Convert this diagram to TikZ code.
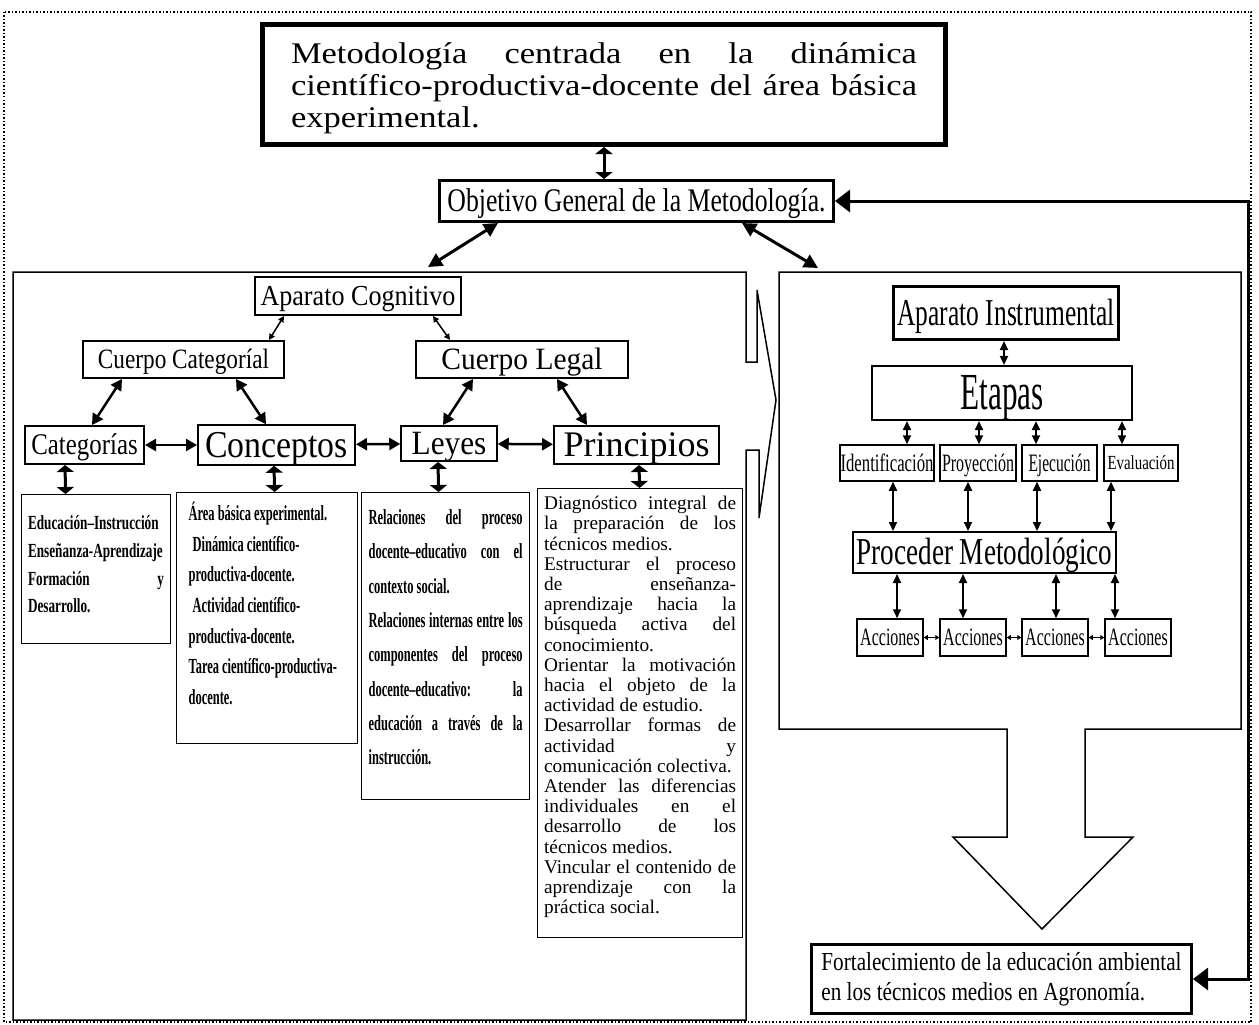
\documentclass[tikz,border=0pt]{standalone}
\usepackage{fontspec}
\usepackage{graphicx}
\setmainfont{Liberation Serif}
\newfontfamily\widefont[FakeStretch=1.15]{Liberation Serif}
\newfontfamily\condfont[FakeStretch=0.66]{Liberation Serif}
\newfontfamily\tightfont[FakeStretch=0.58]{Liberation Serif}
\newfontfamily\fortfont[FakeStretch=0.815]{Liberation Serif}
\usetikzlibrary{arrows.meta}
\tolerance=9999 \hbadness=10000 \hyphenpenalty=10000 \exhyphenpenalty=10000
\newcommand{\narrowtext}[2]{\scalebox{#1}[1]{#2}}
\newcommand{\firstgap}[1]{\rule{0pt}{#1}}

\tikzset{
	box/.style={draw, rectangle, inner sep=0pt, line width=1.5pt},
	lbl/.style={box, font=\fontsize{#1}{#1}\selectfont, text height={0.84*#1pt}, text depth={0.2*#1pt}},
	arrbig/.style={{Triangle[length=14pt,width=14pt]}-{Triangle[length=14pt,width=14pt]}, line width=3pt},
	arrthick/.style={{Triangle[length=11pt,width=12pt]}-{Triangle[length=11pt,width=12pt]}, line width=2.5pt},
	arrupdown/.style={{Triangle[length=7pt,width=17pt]}-{Triangle[length=7pt,width=17pt]}, line width=3pt},
	arrthin/.style={{Triangle[length=6pt,width=6pt]}-{Triangle[length=6pt,width=6pt]}, line width=1.5pt},
	arrmed/.style={{Triangle[length=9pt,width=8pt]}-{Triangle[length=9pt,width=8pt]}, line width=2pt},
	arrsmall/.style={{Triangle[length=4pt,width=5pt]}-{Triangle[length=4pt,width=5pt]}, line width=1.5pt},
	arrfb/.style={{Triangle[length=15pt,width=22pt]}-{Triangle[length=15pt,width=22pt]}, line width=3pt}
}

\begin{document}
\begin{tikzpicture}[x=1pt, y=-1pt]
	\useasboundingbox (0,0) rectangle (1259,1025);
	
	% outer frame and the two panels
	\draw[line width=1.5pt, dash pattern=on 1.5pt off 2pt] (4,12) rectangle (1251,1022);
	\draw[line width=1.5pt] (13,272) -- (746,272) -- (746,362) -- (757,362) -- (757,290) -- (776,400) -- (759,518) -- (759,450) -- (746,450) -- (746,1020) -- (13,1020) -- cycle;
	\draw[line width=1.5pt] (779,272) -- (1241,272) -- (1241,729) -- (1085,729) -- (1085,837) -- (1133,837) -- (1042,929) -- (953,837) -- (1007,837) -- (1007,729) -- (779,729) -- cycle;
	\coordinate (cogin) at (428,267);
	\coordinate (insin) at (818,268);
	\coordinate (fbx) at (1248,600);
	
	\node[box, line width=5pt, minimum width=683pt, minimum height=120pt] (metodo) at (604,84.5) {\parbox[c][120pt][t]{626pt}{\widefont\fontsize{30}{32.5}\selectfont\firstgap{38.5pt}Metodología centrada en la dinámica\linebreak científico-productiva-docente del área básica\linebreak experimental.}};
	\node[lbl=33, line width=3pt, minimum width=394pt, minimum height=41pt] (objetivo) at (636.5,201) {\narrowtext{0.78}{Objetivo General de la Metodología.}};
	
	% aparato cognitivo
	\node[lbl=29, line width=2pt, minimum width=206pt, minimum height=38pt] (apcog) at (358,296) {\narrowtext{0.9}{Aparato Cognitivo}};
	\node[lbl=28, line width=2pt, minimum width=201pt, minimum height=37pt] (cuecat) at (183.5,359.5) {\narrowtext{0.83}{Cuerpo Categoríal}};
	\node[lbl=31, line width=2pt, minimum width=212pt, minimum height=37pt] (cueleg) at (522,359.5) {\narrowtext{0.95}{Cuerpo Legal}};
	\node[lbl=30, line width=2pt, minimum width=119pt, minimum height=38pt] (categ) at (84.5,445) {\narrowtext{0.83}{Categorías}};
	\node[lbl=38, line width=2pt, minimum width=157pt, minimum height=38pt] (concep) at (276.5,445) {\narrowtext{0.89}{Conceptos}};
	\node[lbl=34, line width=1.5pt, minimum width=96pt, minimum height=35pt] (leyes) at (449,443.5) {\narrowtext{0.92}{Leyes}};
	\node[lbl=36, line width=2pt, minimum width=165pt, minimum height=38pt] (princ) at (636.5,445) {\narrowtext{1}{Principios}};
	
	\node[box, line width=1.2pt, minimum width=149pt, minimum height=149pt, anchor=north west, font=\condfont\bfseries\fontsize{20}{27.7}\selectfont] (tcateg) at (21,494) {\parbox[c][149pt][t]{136pt}{\firstgap{35pt}Educación–Instrucción\linebreak Enseñanza-Aprendizaje\linebreak Formación y\linebreak Desarrollo.}};
	\node[box, line width=1.2pt, minimum width=181pt, minimum height=251pt, anchor=north west, font=\tightfont\bfseries\fontsize{21.5}{30.6}\selectfont] (tconcep) at (176,492) {\parbox[c][251pt][t]{157pt}{\raggedright\firstgap{28pt}Área básica experimental.\\\hspace*{4pt}Dinámica científico-\\productiva-docente.\\\hspace*{4pt}Actividad científico-\\productiva-docente.\\Tarea científico-productiva-\\docente.}};
	\node[box, line width=1.2pt, minimum width=168pt, minimum height=307pt, anchor=north west, font=\tightfont\bfseries\fontsize{21.5}{34.3}\selectfont] (tleyes) at (361,492) {\parbox[c][307pt][t]{154pt}{\firstgap{32pt}Relaciones del proceso\linebreak docente–educativo con el\linebreak contexto social.\par Relaciones internas entre los\linebreak componentes del proceso\linebreak docente–educativo: la\linebreak educación a través de la\linebreak instrucción.}};
	\node[box, line width=1.2pt, minimum width=205pt, minimum height=449pt, anchor=north west, font=\fontsize{19.3}{20.2}\selectfont] (tprinc) at (537,488) {\parbox[c][449pt][t]{192pt}{\firstgap{21pt}Diagnóstico integral de\linebreak la preparación de los\linebreak técnicos medios.\par Estructurar el proceso\linebreak de enseñanza-\linebreak aprendizaje hacia la\linebreak búsqueda activa del\linebreak conocimiento.\par Orientar la motivación\linebreak hacia el objeto de la\linebreak actividad de estudio.\par Desarrollar formas de\linebreak actividad y\linebreak comunicación colectiva.\par Atender las diferencias\linebreak individuales en el\linebreak desarrollo de los\linebreak técnicos medios.\par Vincular el contenido de\linebreak aprendizaje con la\linebreak práctica social.}};
	
	% aparato instrumental
	\node[lbl=38, line width=3pt, minimum width=225pt, minimum height=53pt] (apins) at (1006,313) {\narrowtext{0.67}{Aparato Instrumental}};
	\node[lbl=52, line width=2pt, minimum width=260pt, minimum height=48pt] (etapas) at (1002,393) {\narrowtext{0.6}{Etapas}};
	\node[lbl=25, minimum width=94pt, minimum height=36pt] (ident) at (887,463) {\narrowtext{0.67}{Identificación}};
	\node[lbl=25, minimum width=76pt, minimum height=36pt] (proyec) at (978,463) {\narrowtext{0.64}{Proyección}};
	\node[lbl=25, minimum width=75pt, minimum height=36pt] (ejec) at (1059.5,463) {\narrowtext{0.62}{Ejecución}};
	\node[lbl=20, minimum width=74pt, minimum height=36pt] (evalua) at (1141,463) {\narrowtext{0.745}{Evaluación}};
	\node[lbl=38, line width=2pt, minimum width=263pt, minimum height=41pt] (proced) at (984.5,552.5) {\narrowtext{0.715}{Proceder Metodológico}};
	\node[lbl=25, minimum width=66pt, minimum height=37pt] (acc1) at (890,637.5) {\narrowtext{0.64}{Acciones}};
	\node[lbl=25, minimum width=66pt, minimum height=37pt] (acc2) at (973,637.5) {\narrowtext{0.64}{Acciones}};
	\node[lbl=25, minimum width=66pt, minimum height=37pt] (acc3) at (1055,637.5) {\narrowtext{0.64}{Acciones}};
	\node[lbl=25, minimum width=66pt, minimum height=37pt] (acc4) at (1138,637.5) {\narrowtext{0.64}{Acciones}};
	
	\node[box, line width=3pt, minimum width=380pt, minimum height=69pt, align=left, font=\fortfont\fontsize{26}{30}\selectfont] (fortal) at (1001.5,979) {Fortalecimiento de la educación ambiental\\en los técnicos medios en Agronomía.};
	
	% connectors
	\path[arrupdown] (metodo.south) edge (metodo.south |- objetivo.north);
	\path[arrbig] ([xshift=-138.5pt]objetivo.south) edge (cogin);
	\path[arrbig] ([xshift=105.5pt]objetivo.south) edge (insin);
	\draw[arrfb] (fortal.east) -| (fbx) |- (objetivo.east);
	
	\path[arrthin] ([xshift=-74pt]apcog.south) edge ([xshift=85.5pt]cuecat.north);
	\path[arrthin] ([xshift=75pt]apcog.south) edge ([xshift=-72pt]cueleg.north);
	\path[arrthick] ([xshift=-61.5pt]cuecat.south) edge ([xshift=7.5pt]categ.north);
	\path[arrthick] ([xshift=52.5pt]cuecat.south) edge ([xshift=-10.5pt]concep.north);
	\path[arrthick] ([xshift=-49pt]cueleg.south) edge ([xshift=-6pt]leyes.north);
	\path[arrthick] ([xshift=35pt]cueleg.south) edge ([xshift=-49.5pt]princ.north);
	\path[arrthick] (categ) edge (concep);
	\path[arrthick] (concep) edge (leyes);
	\path[arrthick] (leyes) edge (princ);
	\path[arrupdown] ([xshift=-19.5pt]categ.south) edge ([xshift=-30.5pt]tcateg.north);
	\path[arrupdown] ([xshift=-2.5pt]concep.south) edge ([xshift=7.5pt]tconcep.north);
	\path[arrupdown] ([xshift=-11pt]leyes.south) edge ([xshift=-7pt]tleyes.north);
	\path[arrupdown] ([xshift=2.5pt]princ.south) edge ([xshift=-0.5pt]tprinc.north);
	
	\path[arrmed] ([xshift=-2pt]apins.south) edge ([xshift=2pt]etapas.north);
	\path[arrmed] ([xshift=-95pt]etapas.south) edge ([xshift=20pt]ident.north);
	\path[arrmed] ([xshift=-23pt]etapas.south) edge ([xshift=1pt]proyec.north);
	\path[arrmed] ([xshift=34pt]etapas.south) edge ([xshift=-23.5pt]ejec.north);
	\path[arrmed] ([xshift=120pt]etapas.south) edge ([xshift=-19pt]evalua.north);
	\path[arrmed] ([xshift=6pt]ident.south) edge ([xshift=-91.5pt]proced.north);
	\path[arrmed] ([xshift=-10pt]proyec.south) edge ([xshift=-16.5pt]proced.north);
	\path[arrmed] ([xshift=-22.5pt]ejec.south) edge ([xshift=52.5pt]proced.north);
	\path[arrmed] ([xshift=-30pt]evalua.south) edge ([xshift=126.5pt]proced.north);
	\path[arrmed] ([xshift=-87.5pt]proced.south) edge ([xshift=7pt]acc1.north);
	\path[arrmed] ([xshift=-21.5pt]proced.south) edge ([xshift=-10pt]acc2.north);
	\path[arrmed] ([xshift=71.5pt]proced.south) edge ([xshift=1pt]acc3.north);
	\path[arrmed] ([xshift=130.5pt]proced.south) edge ([xshift=-23pt]acc4.north);
	\path[arrsmall] (acc1) edge (acc2);
	\path[arrsmall] (acc2) edge (acc3);
	\path[arrsmall] (acc3) edge (acc4);
	
\end{tikzpicture}
\end{document}
